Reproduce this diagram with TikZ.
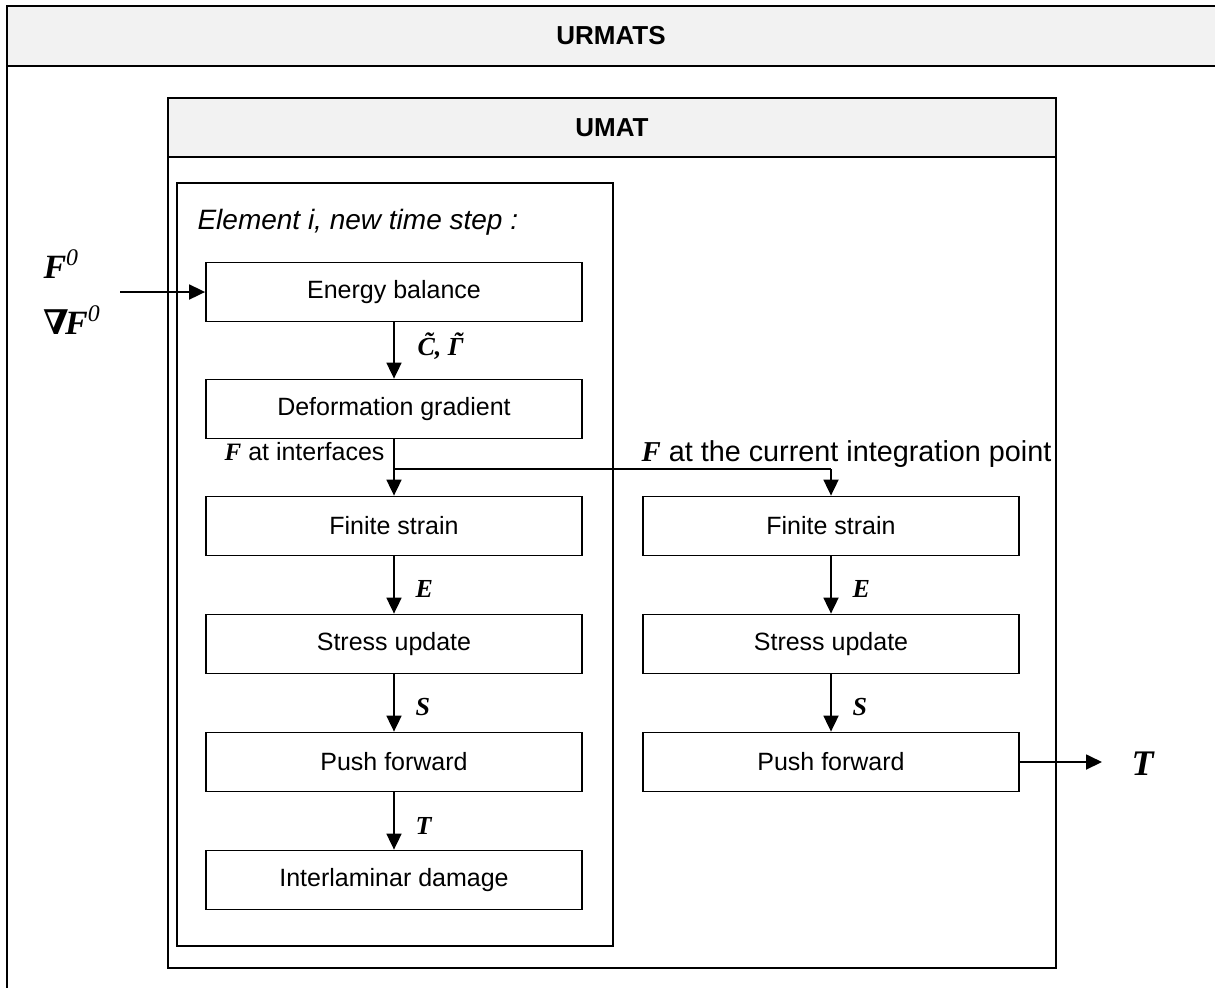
\documentclass[tikz,border=0pt]{standalone}
\usepackage{fontspec}
\setmainfont{Liberation Sans}
\newfontfamily\symfont{Liberation Serif}
\newfontfamily\nablafont{DejaVu Serif}
\usetikzlibrary{arrows.meta,positioning,calc}
\definecolor{UrmatGrey}{gray}{0.95}
% tilde over a capital letter
\newcommand{\tildecap}[1]{\leavevmode\setbox0\hbox{#1}%
  \rlap{\hbox to \wd0{\hss\kern0.15em\raisebox{0.2em}{\char"02DC}\hss}}#1}

\begin{document}
\begin{tikzpicture}[x=0.5pt,y=-0.5pt,>={Triangle[length=8pt,width=7.5pt]},line width=0.9pt,
  stepbox/.style={draw,minimum width=188pt,minimum height=29.5pt,inner sep=0pt,
    font=\fontsize{12.5}{15}\selectfont},
  flowlab/.style={anchor=west,font=\fontsize{13}{15}\symfont\bfseries\itshape},
  headbar/.style={draw,fill=UrmatGrey},
  headtext/.style={font=\fontsize{13}{15}\selectfont\bfseries}]
  \useasboundingbox (0,0) rectangle (1215,987);
  % outer frame
  \draw[headbar] (7,6) rectangle (1218,66);
  \draw (7,66) -- (7,990);
  \node[headtext] (urmats) at (611,36) {URMATS};
  % UMAT frame
  \draw (168,98) rectangle (1056,968);
  \draw[headbar] (168,98) rectangle (1056,157);
  \node[headtext] (umat) at (612,128) {UMAT};
  % element box
  \draw (177,183) rectangle (613,946);
  \node[anchor=west,font=\fontsize{14}{16}\selectfont\itshape] (elem) at (190,222)
    {Element i, new time step :};

  % left column
  \node[stepbox] (energy) at (394,292) {Energy balance};
  \node[stepbox] (deform) at (394,409) {Deformation gradient};
  \node[stepbox] (finL) at (394,526) {Finite strain};
  \node[stepbox] (stressL) at (394,644) {Stress update};
  \node[stepbox] (pushL) at (394,762) {Push forward};
  \node[stepbox] (damage) at (394,880) {Interlaminar damage};
  % right column
  \node[stepbox] (finR) at (831,526) {Finite strain};
  \node[stepbox] (stressR) at (831,644) {Stress update};
  \node[stepbox] (pushR) at (831,762) {Push forward};

  % inputs and outputs
  \node[anchor=west,font=\fontsize{17}{19}\symfont\bfseries\itshape] (Fzero) at (36,264)
    {F\textsuperscript{\mdseries 0}};
  \node[anchor=west,font=\fontsize{17}{19}\symfont\bfseries\itshape] (gradF) at (36,320)
    {{\nablafont\bfseries\itshape ∇}\kern-2pt F\textsuperscript{\mdseries 0}};
  \coordinate (inF) at (120,292);
  \coordinate (outT) at (1102,762);
  \node[anchor=west,font=\fontsize{18}{20}\symfont\bfseries\itshape] (Tout) at (1124,764) {T};

  % connectors
  \draw[->] (inF) -- (energy.west);
  \draw[->] (energy) -- (deform);
  \coordinate (split) at (deform.south |- 0,469);
  \draw (deform.south) -- (split) -- (split -| finR.north);
  \draw[->] (split) -- (finL.north);
  \draw[->] (split -| finR.north) -- (finR.north);
  \draw[->] (finL) -- (stressL);
  \draw[->] (stressL) -- (pushL);
  \draw[->] (pushL) -- (damage);
  \draw[->] (finR) -- (stressR);
  \draw[->] (stressR) -- (pushR);
  \draw[->] (pushR.east) -- (outT);

  % connector labels
  \node[flowlab] (ctilde) at (410,346) {\tildecap{C}, \tildecap{Γ}};
  \node[anchor=east,font=\fontsize{12.5}{15}\selectfont] (fint) at (392,452)
    {{\symfont\bfseries\itshape F} at interfaces};
  \node[anchor=west,font=\fontsize{14.4}{16}\selectfont] (fcur) at (634,454)
    {{\symfont\bfseries\itshape F} at the current integration point};
  \node[flowlab] (eL) at (408,589) {E};
  \node[flowlab] (sL) at (408,707) {S};
  \node[flowlab] (tL) at (408,826) {T};
  \node[flowlab] (eR) at (845,589) {E};
  \node[flowlab] (sR) at (845,707) {S};
\end{tikzpicture}
\end{document}
